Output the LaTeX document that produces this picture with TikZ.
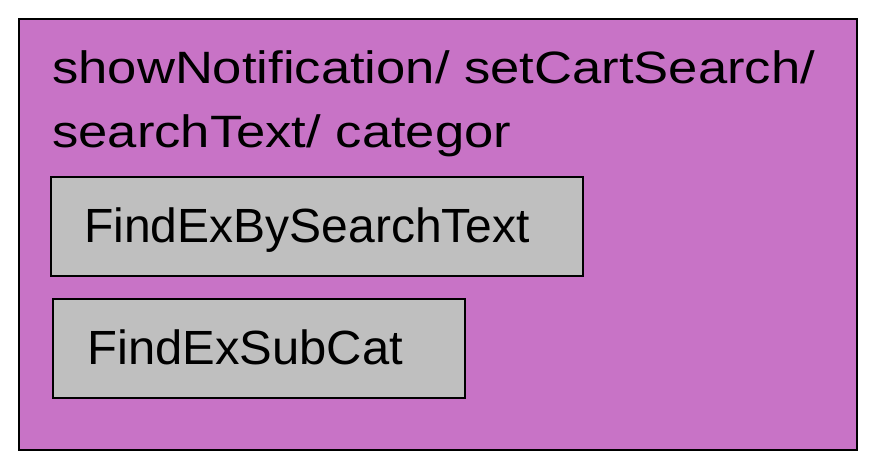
\documentclass[tikz,border=0pt]{standalone}
\usepackage{fontspec}
\setmainfont{Liberation Sans}
\newfontfamily\titlefont[FakeStretch=1.16]{Liberation Sans}
\newfontfamily\boxfont[FakeStretch=1.02]{Liberation Sans}
\definecolor{outerfill}{HTML}{C873C6}
\definecolor{innerfill}{HTML}{BFBFBF}
\tikzset{
  px/.style={x=0.75pt,y=-0.75pt},
  boxshape/.style={draw=black,line width=1.5pt,rectangle,inner sep=0pt,anchor=north west},
  ttl/.style={anchor=base west,inner sep=0pt,font=\titlefont\fontsize{34pt}{40pt}\selectfont},
  lbl/.style={anchor=base west,inner sep=0pt,font=\boxfont\fontsize{36pt}{42pt}\selectfont},
  lblnarrow/.style={anchor=base west,inner sep=0pt,font=\fontsize{36pt}{42pt}\selectfont},
}
\begin{document}
\begin{tikzpicture}[px]
\useasboundingbox (0,0) rectangle (876,462);
\node[boxshape,fill=outerfill,minimum width=838*0.75pt,minimum height=431*0.75pt] (outer) at (18,18) {};
\node[ttl] (t1) at (52,83) {showNotification/ setCartSearch/};
\node[ttl] (t2) at (52,147) {searchText/ categor};
\node[boxshape,fill=innerfill,minimum width=532*0.75pt,minimum height=99*0.75pt] (b1) at (50,176) {};
\node[lblnarrow] (l1) at (84,242) {FindExBySearchText};
\node[boxshape,fill=innerfill,minimum width=412*0.75pt,minimum height=99*0.75pt] (b2) at (52,298) {};
\node[lbl] (l2) at (87,364) {FindExSubCat};
\end{tikzpicture}
\end{document}
